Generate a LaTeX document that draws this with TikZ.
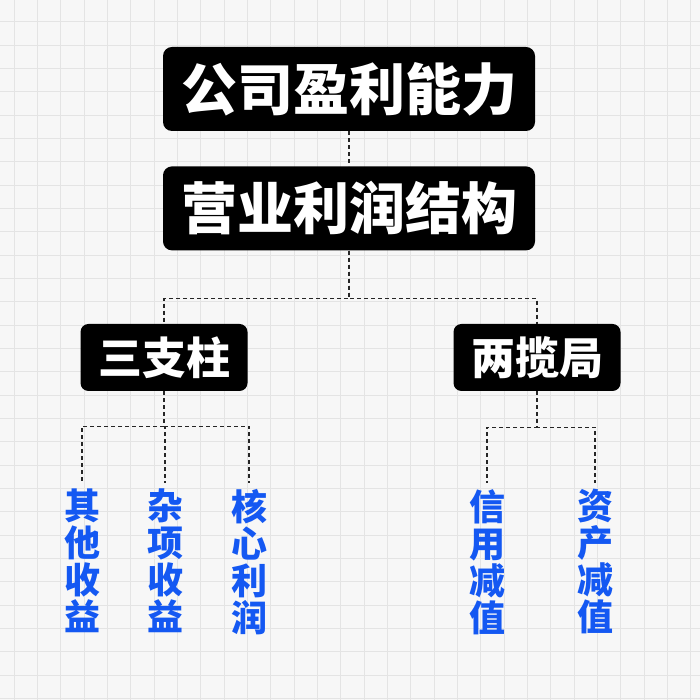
\documentclass[tikz,border=0pt]{standalone}
\usepackage{fontspec}
\usepackage{xcolor}
\usepackage{tikz}
\usetikzlibrary{positioning}
\newfontfamily\cjk{Noto Sans CJK SC}
\definecolor{gridgray}{HTML}{E4E4E4}
\definecolor{leafblue}{HTML}{1458F2}
\tikzset{
  headbox/.style={rectangle, rounded corners=9pt, fill=black, text=white, font=\cjk\bfseries\fontsize{56pt}{60pt}\selectfont, inner xsep=18pt, inner ysep=0pt, minimum height=84pt, minimum width=372pt},
  armbox/.style={rectangle, rounded corners=8pt, fill=black, text=white, font=\cjk\bfseries\fontsize{44pt}{48pt}\selectfont, inner sep=0pt, minimum height=67pt, minimum width=167pt},
  leaf/.style={anchor=north, text=leafblue, align=center, font=\cjk\bfseries\fontsize{36pt}{37pt}\selectfont, inner xsep=0pt, inner ysep=6pt},
  link/.style={dash pattern=on 4pt off 3pt, line width=1.1pt, draw=black!85},
}
\begin{document}
\begin{tikzpicture}[x=1pt, y=1pt, node distance=35pt]
  % paper with grid
  \fill[white!97!black] (0,0) rectangle (700,700);
  \useasboundingbox (0,0) rectangle (700,700);
  \foreach \i in {0,...,29} {
    \draw[gridgray, line width=0.7pt] (14+23.33*\i,0) -- (14+23.33*\i,700);
    \draw[gridgray, line width=0.7pt] (0,678.3-23.33*\i) -- (700,678.3-23.33*\i);
  }

  \node[headbox] (profit) at (349,611) {公司盈利能力};
  \node[headbox, below=of profit] (opstruct) {营业利润结构};
  \node[armbox] (pillars) at (164,342.5) {三支柱};
  \node[armbox] (drags) at (537,342.5) {两揽局};

  \node[leaf] (other) at (82,217) {其\\他\\收\\益};
  \node[leaf] (misc) at (165,217) {杂\\项\\收\\益};
  \node[leaf] (core) at (249,217) {核\\心\\利\\润};
  \node[leaf] (credit) at (487,217) {信\\用\\减\\值};
  \node[leaf] (asset) at (595,217) {资\\产\\减\\值};

  \draw[link] (profit) -- (opstruct);
  \draw[link] (opstruct.south) -- ++(0,-48) -| (pillars.north);
  \draw[link] (opstruct.south) -- ++(0,-48) -| (drags.north);
  \draw[link] (pillars.south) -- ++(0,-35) -| (other.north);
  \draw[link] (pillars.south) -- ++(0,-35) -| (misc.north);
  \draw[link] (pillars.south) -- ++(0,-35) -| (core.north);
  \draw[link] (drags.south) -- ++(0,-36) -| (credit.north);
  \draw[link] (drags.south) -- ++(0,-36) -| (asset.north);
\end{tikzpicture}
\end{document}
